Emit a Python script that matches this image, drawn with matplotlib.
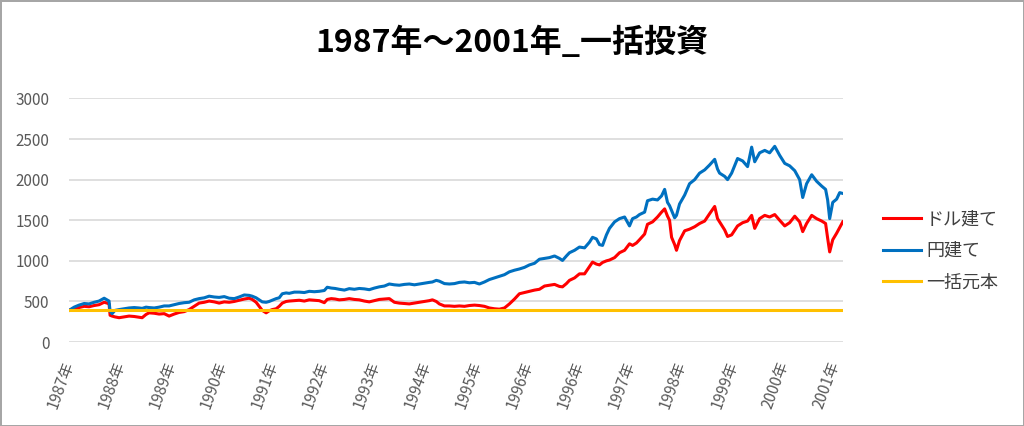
import matplotlib.pyplot as plt
import numpy as np

plt.rcParams['font.family'] = ['Noto Sans CJK JP', 'DejaVu Sans']

# trading-day index of each sample point
days = [0, 25, 49, 74, 98, 123, 147, 172, 186, 196, 201, 211, 225, 245, 270, 294, 319, 343, 358, 377,
        392, 417, 441, 466, 490, 515, 539, 564, 588, 613, 637, 662, 686, 711, 735, 760, 784, 809, 833, 858,
        882, 897, 916, 931, 946, 965, 980, 995, 1014, 1029, 1044, 1063, 1078, 1103, 1127, 1152, 1176, 1201, 1225, 1250,
        1264, 1284, 1303, 1323, 1348, 1372, 1397, 1421, 1446, 1470, 1495, 1519, 1544, 1568, 1593, 1617, 1642, 1666, 1691, 1715,
        1740, 1764, 1779, 1798, 1813, 1838, 1862, 1887, 1911, 1936, 1960, 1985, 2009, 2034, 2058, 2083, 2107, 2132, 2156, 2181,
        2205, 2230, 2254, 2279, 2303, 2328, 2352, 2377, 2401, 2416, 2435, 2450, 2475, 2499, 2524, 2548, 2563, 2582, 2597, 2612,
        2631, 2646, 2671, 2695, 2720, 2744, 2759, 2778, 2793, 2818, 2832, 2857, 2881, 2901, 2916, 2930, 2940, 2950, 2965, 2974,
        2989, 3014, 3038, 3063, 3087, 3112, 3136, 3161, 3175, 3185, 3210, 3224, 3244, 3273, 3298, 3322, 3342, 3357, 3381, 3406,
        3430, 3455, 3479, 3504, 3528, 3553, 3577, 3592, 3611, 3636, 3660, 3685, 3704, 3714, 3724, 3739, 3758, 3773, 3788]

# ドル建て
usd = [390, 415, 425, 440, 435, 450, 460, 490, 480, 470, 330, 320, 310, 300, 310, 320, 315, 305, 300, 340,
       360, 355, 345, 350, 320, 345, 365, 375, 400, 440, 480, 490, 505, 495, 480, 495, 490, 500, 515, 530,
       540, 525, 490, 440, 390, 360, 385, 400, 410, 440, 480, 500, 505, 510, 515, 505, 520, 515, 510, 485,
       525, 535, 530, 520, 525, 535, 525, 520, 505, 495, 510, 525, 530, 535, 490, 480, 475, 470, 480, 490,
       500, 510, 520, 500, 470, 445, 445, 440, 445, 440, 450, 455, 450, 440, 420, 410, 405, 420, 470, 530,
       595, 610, 625, 640, 650, 690, 700, 710, 685, 680, 720, 760, 790, 840, 840, 930, 985, 960, 950, 980,
       1000, 1010, 1040, 1100, 1130, 1210, 1190, 1220, 1260, 1330, 1450, 1480, 1540, 1600, 1640, 1550, 1500, 1290, 1200, 1130,
       1250, 1370, 1390, 1420, 1460, 1490, 1580, 1670, 1520, 1480, 1380, 1300, 1320, 1430, 1470, 1490, 1560, 1400, 1520, 1560,
       1540, 1570, 1500, 1430, 1470, 1550, 1480, 1360, 1460, 1560, 1520, 1490, 1460, 1280, 1110, 1260, 1340, 1410, 1480]

# 円建て
jpy = [390, 430, 455, 475, 470, 490, 505, 540, 520, 505, 380, 350, 390, 400, 410, 420, 425, 420, 415, 430,
       425, 420, 430, 445, 445, 460, 475, 485, 490, 520, 535, 545, 565, 555, 550, 560, 540, 535, 555, 580,
       575, 565, 545, 520, 495, 490, 500, 515, 535, 545, 595, 605, 600, 615, 615, 610, 625, 620, 625, 635,
       675, 665, 660, 650, 640, 658, 650, 660, 655, 645, 665, 680, 690, 715, 705, 700, 710, 715, 705, 715,
       725, 735, 740, 760, 750, 720, 715, 720, 735, 740, 730, 735, 715, 740, 770, 790, 810, 830, 865, 885,
       900, 920, 950, 970, 1020, 1030, 1040, 1060, 1030, 1005, 1060, 1100, 1130, 1170, 1160, 1230, 1290, 1270, 1200, 1190,
       1320, 1400, 1480, 1520, 1540, 1430, 1520, 1540, 1570, 1600, 1740, 1760, 1750, 1800, 1880, 1720, 1680, 1620, 1530, 1560,
       1700, 1810, 1950, 2000, 2080, 2120, 2180, 2250, 2130, 2080, 2040, 2000, 2080, 2260, 2230, 2160, 2400, 2220, 2330, 2360,
       2330, 2410, 2300, 2200, 2170, 2110, 2000, 1780, 1950, 2060, 1980, 1920, 1880, 1750, 1520, 1720, 1760, 1840, 1830]

# 一括元本
principal_days = [0, 3788]
principal = [390, 390]

tick_days = list(range(0, 3751, 250))
tick_labels = ['1987年', '1988年', '1989年', '1990年', '1991年', '1992年', '1993年', '1994年',
               '1995年', '1996年', '1996年', '1997年', '1998年', '1999年', '2000年', '2001年']

fig = plt.figure(figsize=(10.24, 4.26), dpi=100)
fig.patch.set_edgecolor('#a6a6a6')
fig.patch.set_linewidth(2)
ax = fig.add_axes([0.0674, 0.197, 0.7556, 0.572])

ax.plot(days, usd, color='#FF0000', lw=2.2, label='ドル建て')
ax.plot(days, jpy, color='#0070C0', lw=2.2, label='円建て')
ax.plot(principal_days, principal, color='#FFC000', lw=2.2, label='一括元本')

ax.set_xlim(0, 3788)
ax.set_ylim(0, 3000)
ax.set_yticks(range(0, 3001, 500))
ax.grid(axis='y', color='#d9d9d9', lw=1.2)
ax.set_axisbelow(True)
for s in ax.spines.values():
    s.set_visible(False)
ax.tick_params(axis='both', length=0, labelsize=11, labelcolor='#595959')
ax.tick_params(axis='y', pad=14)
ax.set_xticks(tick_days)
ax.set_xticklabels(tick_labels, rotation=70, ha='right', va='center', rotation_mode='anchor')
ax.tick_params(axis='x', pad=14)

fig.text(0.5, 0.899, '1987年～2001年_一括投資', ha='center', va='center',
         fontsize=23, fontweight='bold', color='black')

ax.legend(loc='center left', bbox_to_anchor=(0.862, 0.411), bbox_transform=fig.transFigure,
          frameon=False, fontsize=13, handlelength=2.1, handletextpad=0.3,
          labelspacing=0.75, borderpad=0, borderaxespad=0, labelcolor='#404040')

fig.savefig('out.png', dpi=100, edgecolor=fig.get_edgecolor())
